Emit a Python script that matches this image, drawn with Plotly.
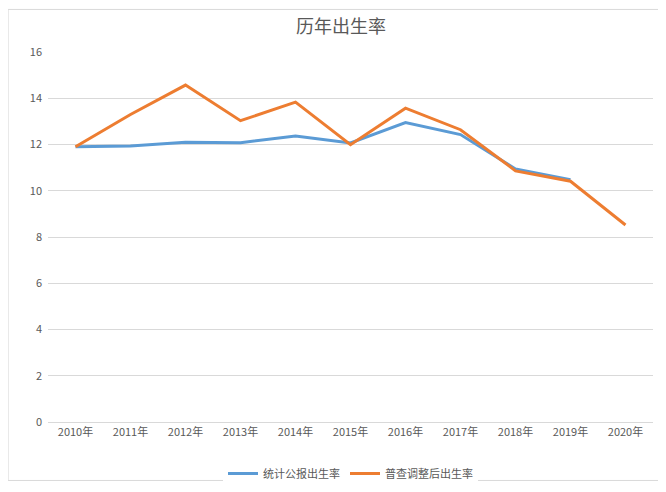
import plotly.graph_objects as go

years = ["2010年", "2011年", "2012年", "2013年", "2014年", "2015年",
         "2016年", "2017年", "2018年", "2019年", "2020年"]
official_rate = [11.90, 11.93, 12.10, 12.08, 12.37, 12.07, 12.95, 12.43, 10.94, 10.48, None]
census_rate = [11.90, 13.30, 14.57, 13.03, 13.83, 11.99, 13.57, 12.64, 10.86, 10.41, 8.52]

font = "Noto Sans CJK SC"

fig = go.Figure()
fig.add_trace(go.Scatter(x=years, y=official_rate, mode="lines", name="统计公报出生率",
                         line=dict(color="#5B9BD5", width=3)))
fig.add_trace(go.Scatter(x=years, y=census_rate, mode="lines", name="普查调整后出生率",
                         line=dict(color="#ED7D31", width=3)))

fig.update_layout(
    width=666, height=492,
    paper_bgcolor="white", plot_bgcolor="white",
    font=dict(family=font, color="#595959", size=11),
    title=dict(text="历年出生率", x=0.5, y=0.975, xanchor="center",
               font=dict(size=18, color="#595959", family=font)),
    margin=dict(l=40, r=21, t=44, b=61),
    xaxis=dict(showgrid=False, showline=True, linecolor="#D9D9D9", ticks="",
               range=[-0.5, 10.5], tickfont=dict(size=11, color="#595959")),
    yaxis=dict(range=[0, 16], dtick=2, showgrid=True, gridcolor="#D9D9D9",
               zeroline=False, showline=False, ticksuffix="  ",
               tickfont=dict(size=11, color="#595959")),
    legend=dict(orientation="h", x=0.5, xanchor="center", y=-0.1, yanchor="top",
                font=dict(size=11, color="#595959")),
    shapes=[dict(type="rect", xref="paper", yref="paper", x0=-0.066, x1=1.033,
                 y0=-0.158, y1=1.115, line=dict(color="#D9D9D9", width=1))],
)

fig.write_html("out.html")
